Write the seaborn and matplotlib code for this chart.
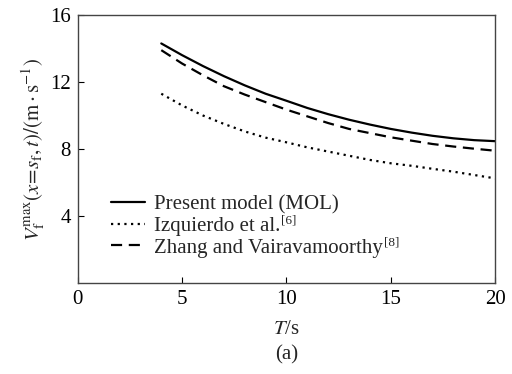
import numpy as np
import pandas as pd
import matplotlib
matplotlib.use("Agg")
import matplotlib.pyplot as plt
import seaborn as sns

# values
T = [4, 5, 6, 7, 8, 9, 10, 11, 12, 13, 14, 15, 16, 17, 18, 19, 20]
present_mol = [14.3, 13.6, 12.95, 12.35, 11.8, 11.3, 10.88, 10.45, 10.08, 9.75,
               9.46, 9.2, 8.98, 8.79, 8.64, 8.53, 8.47]
izquierdo = [11.3, 10.6, 10.0, 9.5, 9.05, 8.68, 8.4, 8.1, 7.85, 7.6,
             7.35, 7.15, 7.0, 6.82, 6.65, 6.45, 6.25]
zhang = [13.9, 13.1, 12.4, 11.75, 11.25, 10.8, 10.35, 9.95, 9.55, 9.2,
         8.95, 8.7, 8.5, 8.3, 8.15, 8.02, 7.9]

labels = ["Present model (MOL)", "Izquierdo et al.", "Zhang and Vairavamoorthy"]
refs = ["", "[6]", "[8]"]
styles = ["-", (0, (1, 2)), (0, (5, 3))]

df = pd.DataFrame({"T": T * 3,
                   "V": present_mol + izquierdo + zhang,
                   "model": np.repeat(labels, len(T))})

sns.set_style("ticks")
plt.rcParams["font.family"] = ["Liberation Serif", "DejaVu Serif"]
plt.rcParams["mathtext.fontset"] = "stix"
plt.rcParams["font.size"] = 15

fig = plt.figure(figsize=(5.12, 3.74), dpi=100)
ax = fig.add_axes([0.152, 0.243, 0.815, 0.717])

for lab, ls in zip(labels, styles):
    sub = df[df["model"] == lab]
    sns.lineplot(data=sub, x="T", y="V", ax=ax, color="black",
                 linestyle=ls, lw=1.6, label=lab)

ax.set_xlim(0, 20)
ax.set_ylim(0, 16)
ax.set_xticks([0, 5, 10, 15, 20])
ax.set_yticks([4, 8, 12, 16])
ax.tick_params(direction="in", length=4, width=0.8, labelsize=15,
               colors="black", pad=5)
for s in ax.spines.values():
    s.set_color("#444444")
    s.set_linewidth(1.0)

ax.set_xlabel("$T$/s", fontsize=15, labelpad=8)
ax.set_ylabel(r"$V_\mathrm{f}^\mathrm{max}(x\!=\!s_\mathrm{f},t)/(\mathrm{m\cdot s^{-1}})$",
              fontsize=15, labelpad=2)

leg = ax.legend(loc="upper left", bbox_to_anchor=(0.08, 0.33), frameon=False,
                fontsize=15, handlelength=1.6, handletextpad=0.45,
                labelspacing=0.1, borderpad=0, borderaxespad=0)

# reference superscripts after the legend labels
fig.canvas.draw()
W, H = fig.canvas.get_width_height()
for txt, r in zip(leg.get_texts(), refs):
    if r:
        bb = txt.get_window_extent()
        fig.text(bb.x1 / W + 0.002, (bb.y1 + 2) / H, r, fontsize=9.5,
                 ha="left", va="top")

fig.text(0.56, 0.052, "(a)", ha="center", va="center", fontsize=15)

fig.savefig("out.png", dpi=100)
